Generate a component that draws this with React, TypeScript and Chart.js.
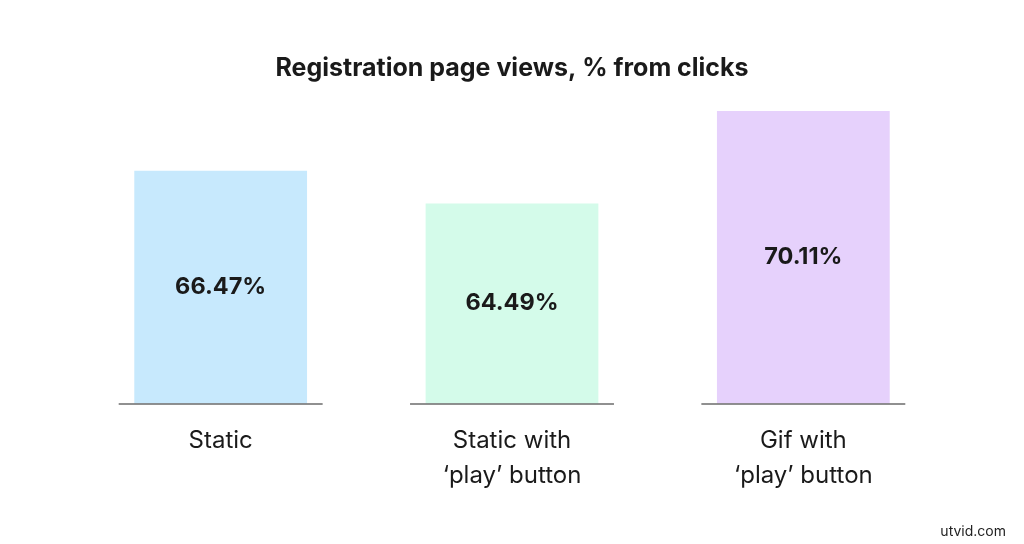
import React, { useEffect, useRef } from "react";
import { Chart, registerables } from "chart.js";

Chart.register(...registerables);

const categories: (string | string[])[] = [
  "Static",
  ["Static with", "\u2018play\u2019 button"],
  ["Gif with", "\u2018play\u2019 button"],
];
const values: number[] = [66.47, 64.49, 70.11];
const barColors: string[] = ["#C7E9FD", "#D4FBEA", "#E6D1FC"];
const valueLabels: string[] = ["66.47%", "64.49%", "70.11%"];
const titleText = "Registration page views, % from clicks";
const FONT = "Inter, 'Open Sans', sans-serif";

const overlayPlugin = {
  id: "overlay",
  afterDatasetsDraw(chart: any) {
    const { ctx, chartArea, scales } = chart;
    const x = scales.x;
    const y = scales.y;
    ctx.save();
    // baseline segments
    const half = (x.width / categories.length) * 0.35;
    ctx.strokeStyle = "#6b6b6b";
    ctx.lineWidth = 1.5;
    categories.forEach((_c, i) => {
      const cx = x.getPixelForValue(i);
      ctx.beginPath();
      ctx.moveTo(cx - half, chartArea.bottom + 0.5);
      ctx.lineTo(cx + half, chartArea.bottom + 0.5);
      ctx.stroke();
    });
    // value labels
    ctx.fillStyle = "#1a1a1a";
    ctx.font = "bold 23.5px " + FONT;
    ctx.textAlign = "center";
    ctx.textBaseline = "middle";
    values.forEach((v, i) => {
      const top = y.getPixelForValue(v);
      const cy = (top + chartArea.bottom) / 2;
      ctx.fillText(valueLabels[i], x.getPixelForValue(i), cy);
    });
    // watermark
    ctx.font = "14px " + FONT;
    ctx.textAlign = "right";
    ctx.fillStyle = "#222";
    ctx.fillText("utvid.com", 1006, 532);
    ctx.restore();
  },
};

export default function App() {
  const ref = useRef<HTMLCanvasElement>(null);
  useEffect(() => {
    document.body.style.margin = "0";
    const chart = new Chart(ref.current!, {
      type: "bar",
      data: {
        labels: categories,
        datasets: [
          {
            data: values,
            backgroundColor: barColors,
            borderWidth: 0,
            barPercentage: 0.593,
            categoryPercentage: 1,
          },
        ],
      },
      options: {
        animation: false,
        responsive: false,
        devicePixelRatio: 1,
        layout: { padding: { left: 75, right: 75, top: 0, bottom: 31 } },
        plugins: {
          legend: { display: false },
          tooltip: { enabled: false },
          title: {
            display: true,
            text: titleText,
            color: "#1a1a1a",
            font: { family: FONT, size: 25, weight: "bold", lineHeight: 1.2 },
            padding: { top: 53, bottom: 28 },
          },
        },
        scales: {
          x: {
            grid: { display: false, drawTicks: false },
            border: { display: false },
            ticks: {
              color: "#1a1a1a",
              font: { family: FONT, size: 24, lineHeight: 1.45 },
              padding: 20,
              maxRotation: 0,
            },
          },
          y: {
            display: false,
            min: 52.33,
            max: 70.11,
          },
        },
      },
      plugins: [overlayPlugin],
    });
    return () => chart.destroy();
  }, []);
  return <canvas ref={ref} width={1024} height={544} style={{ display: "block" }} />;
}
